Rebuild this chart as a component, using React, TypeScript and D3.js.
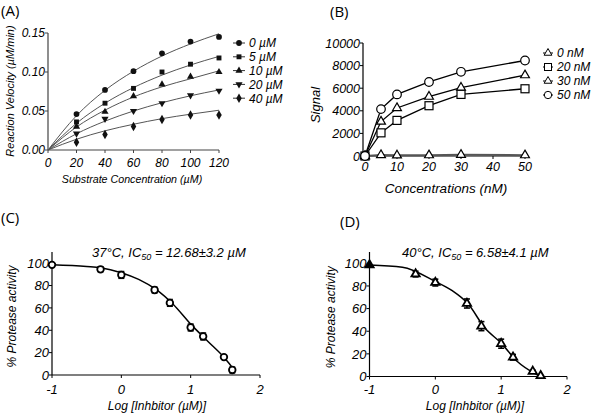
import * as d3 from "d3";

// ---- panel A: Michaelis-Menten, inhibitor series ----
const kmX = [20, 40, 60, 80, 100, 120];
const kmFitX = [0, 20, 40, 60, 80, 100, 120];
const kmLabels = ["0 µM", "5 µM", "10 µM", "20 µM", "40 µM"];
const km0 = [0.046, 0.077, 0.101, 0.124, 0.139, 0.145];
const km5 = [0.036, 0.06, 0.079, 0.1, 0.11, 0.118];
const km10 = [0.03, 0.049, 0.069, 0.084, 0.094, 0.1];
const km20 = [0.021, 0.04, 0.05, 0.06, 0.07, 0.076];
const km40 = [0.01, 0.02, 0.03, 0.039, 0.045, 0.045];
const kmFit0 = [0, 0.044, 0.0765, 0.101, 0.1205, 0.136, 0.149];
const kmFit5 = [0, 0.0343, 0.06, 0.08, 0.096, 0.109, 0.12];
const kmFit10 = [0, 0.0295, 0.0511, 0.068, 0.081, 0.0913, 0.1015];
const kmFit20 = [0, 0.0208, 0.037, 0.05, 0.0606, 0.0695, 0.077];
const kmFit40 = [0, 0.0138, 0.0246, 0.033, 0.0402, 0.0459, 0.051];
const kmXTicks = [0, 20, 40, 60, 80, 100, 120];
const kmYTicks = [0, 0.05, 0.1, 0.15];

// ---- panel B: signal vs concentration ----
const sigX = [0, 5, 10, 20, 30, 50];
const sigLabels = ["0 nM", "20 nM", "30 nM", "50 nM"];
const sig0 = [0, 90, 60, 70, 110, 70];
const sig20 = [0, 2050, 3150, 4450, 5450, 5950];
const sig30 = [0, 3050, 4250, 5250, 6050, 7150];
const sig50 = [0, 4150, 5450, 6550, 7450, 8450];
const sigXTicks = [0, 10, 20, 30, 40, 50];
const sigYTicks = [0, 2000, 4000, 6000, 8000, 10000];

// ---- panels C and D: dose response ----
const logX = [-1, -0.3, 0, 0.48, 0.7, 1.0, 1.18, 1.48, 1.6];
const act37 = [98.5, 94.5, 89.5, 76, 64.5, 42.5, 34.5, 16, 4.5];
const err37 = [1, 2, 3, 2.5, 3, 3, 3, 1.5, 2.5];
const fit37X = [-1, -0.5, -0.3, 0, 0.25, 0.5, 0.75, 1.0, 1.25, 1.5, 1.62];
const fit37 = [98.5, 97, 96, 91.5, 85.5, 76.5, 63, 45.5, 30, 14.5, 5];
const act40 = [98.5, 90.5, 83, 64.5, 44.5, 29, 17, 4.5, 0.6];
const err40 = [0, 2.5, 3, 4, 4, 4, 2.5, 1, 0];
const fit40X = [-1, -0.5, 0, 0.25, 0.5, 0.75, 1.0, 1.25, 1.5, 1.6];
const fit40 = [98.5, 96.5, 84, 76, 64, 43, 29.5, 13, 3, 0];
const doseXTicks = [-1, 0, 1, 2];
const doseYTicks = [0, 20, 40, 60, 80, 100];

const sans = "'Liberation Sans', Arial, Helvetica, sans-serif";
const labelFont = "'Open Sans', 'Noto Sans', sans-serif";

type Sc = d3.ScaleLinear<number, number>;

function Axes({
  x, y, xTicks, yTicks, xFmt, yFmt, color = "#000", fs = 12, xLabelY, yAxisX,
}: {
  x: Sc; y: Sc; xTicks: number[]; yTicks: number[];
  xFmt: (v: number) => string; yFmt: (v: number) => string;
  color?: string; fs?: number; xLabelY: number; yAxisX?: number;
}) {
  const [x0, x1] = x.range();
  const [y0, y1] = y.range();
  const ax = yAxisX ?? x0;
  return (
    <g fontFamily={sans} fontStyle="italic" fontSize={fs} fill="#000">
      <line x1={ax} x2={x1} y1={y0} y2={y0} stroke={color} strokeWidth={1.2} />
      <line x1={ax} x2={ax} y1={y0} y2={y1} stroke={color} strokeWidth={1.2} />
      {xTicks.map((t) => (
        <g key={"x" + t}>
          <line x1={x(t)} x2={x(t)} y1={y0} y2={y0 + 3} stroke={color} />
          <text x={x(t)} y={xLabelY} textAnchor="middle">{xFmt(t)}</text>
        </g>
      ))}
      {yTicks.map((t) => (
        <g key={"y" + t}>
          <line x1={ax - 3} x2={ax} y1={y(t)} y2={y(t)} stroke={color} />
          <text x={ax - 3} y={y(t)} dy="0.36em" textAnchor="end">{yFmt(t)}</text>
        </g>
      ))}
    </g>
  );
}

function PanelA() {
  const x = d3.scaleLinear([0, 120], [48, 219]);
  const y = d3.scaleLinear([0, 0.15], [150, 33]);
  const obs = [km0, km5, km10, km20, km40];
  const fits = [kmFit0, kmFit5, kmFit10, kmFit20, kmFit40];
  const shapes = [d3.symbolCircle, d3.symbolSquare, d3.symbolTriangle, d3.symbolTriangle, d3.symbolDiamond];
  const sizes = [26, 24, 22, 22, 26];
  const line = d3.line<number>((_, i) => x(kmFitX[i]), (d) => y(d)).curve(d3.curveMonotoneX);
  const sym = (i: number) => d3.symbol(shapes[i], sizes[i])() || "";
  return (
    <g>
      <text x={1} y={16} fontFamily={labelFont} fontSize={15}>(A)</text>
      <Axes x={x} y={y} xTicks={kmXTicks} yTicks={kmYTicks} xFmt={(v) => String(v)}
        yFmt={d3.format(".2f")} color="#444" fs={12} xLabelY={167} />
      {fits.map((f, i) => (
        <path key={i} d={line(f) || ""} fill="none" stroke="#555" strokeWidth={1} />
      ))}
      {obs.map((s, i) =>
        s.map((v, j) => (
          <path key={i + "-" + j} d={sym(i)}
            transform={`translate(${x(kmX[j])},${y(v)})${i === 3 ? " rotate(180)" : ""}`} fill="#111" />
        ))
      )}
      <g fontFamily={sans} fontStyle="italic" fontSize={12}>
        {kmLabels.map((l, i) => {
          const ly = 43 + i * 13.8;
          return (
            <g key={l}>
              <line x1={233} x2={245} y1={ly} y2={ly} stroke="#333" />
              <path d={sym(i)} transform={`translate(239,${ly})${i === 3 ? " rotate(180)" : ""}`} fill="#111" />
              <text x={249} y={ly} dy="0.36em">{l}</text>
            </g>
          );
        })}
      </g>
      <text x={132} y={183} textAnchor="middle" fontFamily={sans} fontStyle="italic" fontSize={10.7}>
        Substrate Concentration (µM)
      </text>
      <text transform="translate(14,91) rotate(-90)" textAnchor="middle" fontFamily={sans}
        fontStyle="italic" fontSize={11}>
        Reaction Velocity (µM/min)
      </text>
    </g>
  );
}

function PanelB() {
  const x = d3.scaleLinear([0, 50], [365, 525]);
  const y = d3.scaleLinear([0, 10000], [156, 43]);
  const series = [sig0, sig20, sig30, sig50];
  const line = d3.line<number>((_, i) => x(sigX[i]), (d) => y(d));
  const marker = (i: number, cx: number, cy: number, key: string) => {
    if (i === 3) return <circle key={key} cx={cx} cy={cy} r={4.3} fill="#fff" stroke="#000" strokeWidth={1.2} />;
    if (i === 1) return <rect key={key} x={cx - 4} y={cy - 4} width={8} height={8} fill="#fff" stroke="#000" strokeWidth={1.2} />;
    return (
      <path key={key} d={d3.symbol(d3.symbolTriangle, 34)() || ""} transform={`translate(${cx},${cy})`}
        fill="#fff" stroke="#000" strokeWidth={1.2} />
    );
  };
  return (
    <g>
      <text x={330} y={17} fontFamily={labelFont} fontSize={15}>(B)</text>
      <Axes x={x} y={y} xTicks={sigXTicks} yTicks={sigYTicks} xFmt={(v) => String(v)}
        yFmt={(v) => String(v)} fs={12.5} xLabelY={171} yAxisX={363} />
      {series.map((s, i) => (
        <path key={i} d={line(s) || ""} fill="none" stroke={i === 0 ? "#555" : "#000"} strokeWidth={i === 0 ? 2 : 1.3} />
      ))}
      {series.map((s, i) => s.map((v, j) => marker(i, x(sigX[j]), y(v), i + "-" + j)))}
      <g fontFamily={sans} fontStyle="italic" fontSize={12}>
        {sigLabels.map((l, i) => {
          const ly = 53 + i * 14;
          return (
            <g key={l}>
              <line x1={543} x2={553} y1={ly} y2={ly} stroke="#000" />
              {i === 1 ? (
                <rect x={544.5} y={ly - 3.5} width={7} height={7} fill="#fff" stroke="#000" />
              ) : i === 3 ? (
                <circle cx={548} cy={ly} r={3.7} fill="#fff" stroke="#000" />
              ) : (
                <path d={d3.symbol(d3.symbolTriangle, 26)() || ""} transform={`translate(548,${ly})`} fill="#fff" stroke="#000" />
              )}
              <text x={557} y={ly} dy="0.36em">{l}</text>
            </g>
          );
        })}
      </g>
      <text x={446} y={193} textAnchor="middle" fontFamily={sans} fontStyle="italic" fontSize={13.5}>
        Concentrations (nM)
      </text>
      <text transform="translate(320,105) rotate(-90)" textAnchor="middle" fontFamily={sans}
        fontStyle="italic" fontSize={13}>
        Signal
      </text>
    </g>
  );
}

function DosePanel({
  label, lx, ly, x, y, vals, errs, fitX, fit, shape, title, titleX, titleRest, ytx, xtx,
}: {
  label: string; lx: number; ly: number; x: Sc; y: Sc; vals: number[]; errs: number[];
  fitX: number[]; fit: number[]; shape: "circle" | "triangle"; title: string; titleX: number;
  titleRest: string; ytx: number; xtx: number;
}) {
  const line = d3.line<number>((_, i) => x(fitX[i]), (d) => y(d)).curve(d3.curveMonotoneX);
  const top = y.range()[1];
  return (
    <g>
      <text x={lx} y={ly} fontFamily={labelFont} fontSize={15}>{label}</text>
      <Axes x={x} y={y} xTicks={doseXTicks} yTicks={doseYTicks} xFmt={(v) => String(v)}
        yFmt={(v) => String(v)} fs={13} xLabelY={394} />
      <path d={line(fit) || ""} fill="none" stroke="#000" strokeWidth={1.5} />
      {vals.map((v, i) => {
        const cx = x(logX[i]);
        const cy = y(v);
        const e = errs[i];
        return (
          <g key={i} stroke="#000" strokeWidth={1.6}>
            {e > 0 && (
              <g>
                <line x1={cx} x2={cx} y1={y(v - e)} y2={y(v + e)} />
                <line x1={cx - 3} x2={cx + 3} y1={y(v + e)} y2={y(v + e)} />
                <line x1={cx - 3} x2={cx + 3} y1={y(v - e)} y2={y(v - e)} />
              </g>
            )}
            {shape === "circle" ? (
              <circle cx={cx} cy={cy} r={3.3} fill="#fff" strokeWidth={1.8} />
            ) : (
              <path d={d3.symbol(d3.symbolTriangle, 30)() || ""} transform={`translate(${cx},${cy})`}
                fill={i === 0 ? "#000" : "#fff"} strokeWidth={1.8} />
            )}
          </g>
        );
      })}
      <text x={titleX} y={257} fontFamily={sans} fontStyle="italic" fontSize={13}>
        {title}
        <tspan fontSize={9} dy={3}>50</tspan>
        <tspan dy={-3}>{titleRest}</tspan>
      </text>
      <text x={xtx} y={410} textAnchor="middle" fontFamily={sans} fontStyle="italic" fontSize={12}>
        Log [Inhbitor (µM)]
      </text>
      <text transform={`translate(${ytx},${(y.range()[0] + top) / 2 + 3}) rotate(-90)`} textAnchor="middle"
        fontFamily={sans} fontStyle="italic" fontSize={12}>
        % Protease activity
      </text>
    </g>
  );
}

export default function App() {
  const xC = d3.scaleLinear([-1, 2], [52, 260]);
  const yC = d3.scaleLinear([0, 110], [375, 252]);
  const xD = d3.scaleLinear([-1, 2], [369.5, 567]);
  const yD = d3.scaleLinear([0, 110], [376.5, 252]);
  return (
    <svg width={600} height={413} viewBox="0 0 600 413"
      style={{ position: "absolute", left: 0, top: 0, background: "#fff" }}>
      <rect width={600} height={413} fill="#fff" />
      <PanelA />
      <PanelB />
      <DosePanel label="(C)" lx={1} ly={223} x={xC} y={yC} vals={act37} errs={err37} fitX={fit37X} fit={fit37}
        shape="circle" title="37°C, IC" titleX={92} titleRest=" = 12.68±3.2 µM" ytx={16} xtx={157} />
      <DosePanel label="(D)" lx={340} ly={227} x={xD} y={yD} vals={act40} errs={err40} fitX={fit40X} fit={fit40}
        shape="triangle" title="40°C, IC" titleX={402} titleRest=" = 6.58±4.1 µM" ytx={335} xtx={475} />
    </svg>
  );
}
